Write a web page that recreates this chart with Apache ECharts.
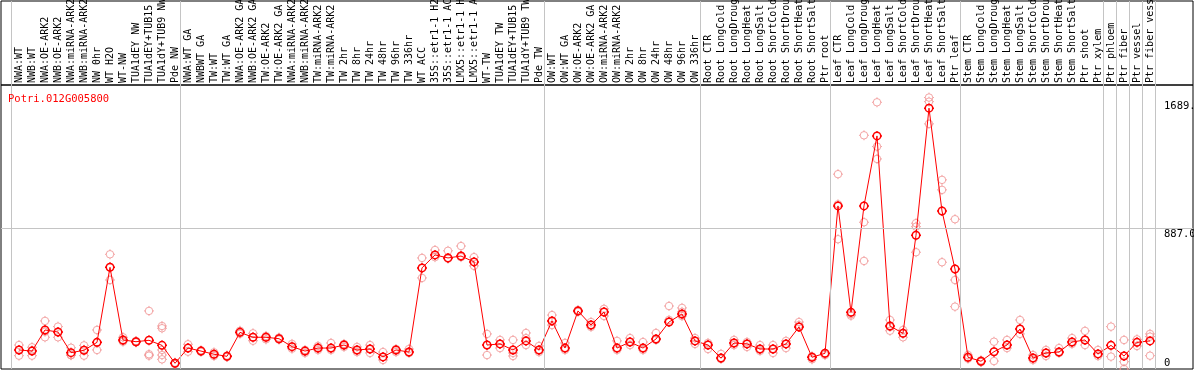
<!DOCTYPE html>
<html>
<head>
<meta charset="utf-8">
<script src="https://cdn.jsdelivr.net/npm/echarts@6/dist/echarts.min.js"></script>
<style>
html,body{margin:0;padding:0;background:#fff;}
#chart{width:1194px;height:370px;}
</style>
</head>
<body>
<div id="chart"></div>
<script>
const geneName = 'Potri.012G005800';

const categories = [
 'NWA:WT','NWB:WT','NWA:OE-ARK2','NWB:OE-ARK2','NWA:miRNA-ARK2','NWB:miRNA-ARK2','NW 0hr','WT H2O','WT-NW','TUA1dEY NW','TUA1dEY+TUB15 NW','TUA1dY+TUB9 NW','Pde NW',
 'NWA:WT GA','NWBWT GA','TW:WT','TW:WT GA','NWA:OE-ARK2 GA','NWB:OE-ARK2 GA','TW:OE-ARK2','TW:OE-ARK2 GA','NWA:miRNA-ARK2','NWB:miRNA-ARK2','TW:miRNA-ARK2','TW:miRNA-ARK2',
 'TW 2hr','TW 8hr','TW 24hr','TW 48hr','TW 96hr','TW 336hr','WT ACC','35S::etr1-1 H2O','35S::etr1-1 ACC','LMX5::etr1-1 H2O','LMX5::etr1-1 ACC','WT-TW','TUA1dEY TW','TUA1dEY+TUB15 TW','TUA1dY+TUB9 TW','Pde TW',
 'OW:WT','OW:WT GA','OW:OE-ARK2','OW:OE-ARK2 GA','OW:miRNA-ARK2','OW:miRNA-ARK2','OW 2hr','OW 8hr','OW 24hr','OW 48hr','OW 96hr','OW 336hr',
 'Root CTR','Root LongCold','Root LongDrought','Root LongHeat','Root LongSalt','Root ShortCold','Root ShortDrought','Root ShortHeat','Root ShortSalt','Ptr root',
 'Leaf CTR','Leaf LongCold','Leaf LongDrought','Leaf LongHeat','Leaf LongSalt','Leaf ShortCold','Leaf ShortDrought','Leaf ShortHeat','Leaf ShortSalt','Ptr leaf',
 'Stem CTR','Stem LongCold','Stem LongDrought','Stem LongHeat','Stem LongSalt','Stem ShortCold','Stem ShortDrought','Stem ShortHeat','Stem ShortSalt','Ptr shoot','Ptr xylem',
 'Ptr phloem','Ptr fiber','Ptr vessel','Ptr fiber vessel'
];

const means = [
 120,113,246,233,103,118,168,641,183,172,181,149,36,
 132,113,93,80,231,200,200,191,141,113,132,132,
 151,120,126,76,120,107,637,719,700,712,675,151,158,120,177,120,
 303,132,366,277,359,132,170,132,189,296,347,177,
 151,69,164,158,126,126,158,265,74,99,
 1028,357,1028,1469,271,225,843,1644,996,630,
 74,49,109,151,252,69,101,107,170,183,95,
 149,82,168,177
];

const replicates = [
 [151,120,84],[137,118,84],[303,235,200],[267,232,200],[134,88,87],[149,121,84],[246,165,120],[723,641,561],[200,178,172],[176,170,168],[366,93,84],[271,257,120,88,61],[40,36,32],
 [156,132,109],[118,113,108],[105,93,82],[85,80,76],[241,231,222],[225,200,178],[208,200,187],[198,191,185],[158,141,128],[120,113,101],[145,132,120],[164,132,120],
 [158,151,139],[139,120,107],[151,126,101],[107,76,57],[126,120,107],[126,107,101],[700,637,574],[750,719,705],[745,700,695],[775,712,705],[705,675,650],[221,151,88],[183,158,132],[183,101,82],[227,195,151],[145,120,107],
 [340,303,277],[164,132,120],[372,366,360],[296,277,265],[379,359,334],[177,132,120],[195,170,151],[170,132,120],[227,189,183],[397,296,309],[385,360,334],[195,177,158],
 [164,151,126],[95,69,63],[183,164,151],[170,158,139],[151,126,114],[151,126,101],[177,158,132],[296,277,265],[80,74,61],[99,95,88],
 [1228,1038,818],[357,345,336],[1473,925,681],[1681,1402,1324],[309,265,241],[246,225,200],[919,897,736],[1711,1685,1545],[1192,1129,673],[944,561,393],
 [88,74,65],[55,49,44],[172,109,50],[183,151,132],[309,252,221],[88,69,57],[120,101,82],[132,107,101],[195,170,158],[240,183,151],[120,95,82],
 [267,149,78],[183,82,46,0],[187,168,145],[221,204,84]
];

// first category index of each group (separator drawn just before it)
const groupStarts = [0,13,41,53,63,73,84,85,86,87,88];
const refLineValue = 887.0;
const upperLabelValues = [887.0, 1689.9];
const lowerLabelValues = [0];

const Y_MAX = 1790;
const X_MIN = -1.3846, X_MAX = 90.3077;
const MONO = "'DejaVu Sans Mono', monospace";
const FS = 10.5;
const CAT_FS = 10;
const GRID_LINE = '#c4c4c4';

const markerPath = 'path://M1.5,6A4.5,4.5 0 1 1 10.5,6A4.5,4.5 0 1 1 1.5,6Z M6,0L6,1.5 M6,10.5L6,12 M0,6L1.5,6 M10.5,6L12,6';

const repData = [];
replicates.forEach((arr, i) => arr.forEach(v => repData.push([i, v])));
const meanData = means.map((v, i) => [i, v]);
const sepLines = groupStarts.map(s => ({xAxis: s - 0.6}));

const hiddenAxis = {show: false, axisLine: {show: false}, axisTick: {show: false}, axisLabel: {show: false}, splitLine: {show: false}};

const chart = echarts.init(document.getElementById('chart'), null, {renderer: 'canvas'});
chart.setOption({
  animation: false,
  backgroundColor: '#fff',
  title: {
    text: geneName, left: 3, top: 89,
    textStyle: {color: '#ff0000', fontFamily: MONO, fontSize: FS, fontWeight: 'normal'}
  },
  grid: [
    {left: 1, right: 1, top: 85, bottom: 1, show: true, borderColor: '#000', borderWidth: 1,
     containLabel: false, outerBoundsMode: 'none'},
    {left: 1, right: 1, top: 1, height: 84, show: true, borderColor: '#000', borderWidth: 1,
     containLabel: false, outerBoundsMode: 'none'}
  ],
  xAxis: [{
    gridIndex: 0, type: 'value', min: X_MIN, max: X_MAX, position: 'top',
    axisLine: {show: false, onZero: false},
    axisTick: {show: false},
    splitLine: {show: false},
    axisLabel: {
      customValues: categories.map((_, i) => i),
      formatter: v => categories[Math.round(v)] || '',
      rotate: -90, align: 'left', verticalAlign: 'middle', margin: 2,
      color: '#000', fontFamily: MONO, fontSize: CAT_FS,
      hideOverlap: false
    }
  }, Object.assign({gridIndex: 1, type: 'value', min: X_MIN, max: X_MAX}, hiddenAxis)],
  yAxis: [{
    gridIndex: 0, type: 'value', min: 0, max: Y_MAX, position: 'right',
    axisLine: {show: false}, axisTick: {show: false}, splitLine: {show: false},
    axisLabel: {
      inside: true, align: 'left', margin: 29, verticalAlign: 'top',
      customValues: upperLabelValues, formatter: v => v.toFixed(1),
      color: '#000', fontFamily: MONO, fontSize: FS
    }
  }, {
    gridIndex: 0, type: 'value', min: 0, max: Y_MAX, position: 'right',
    axisLine: {show: false}, axisTick: {show: false}, splitLine: {show: false},
    axisLabel: {
      inside: true, align: 'left', margin: 29, verticalAlign: 'bottom',
      customValues: lowerLabelValues, formatter: v => String(v),
      color: '#000', fontFamily: MONO, fontSize: FS
    }
  }, Object.assign({gridIndex: 1, type: 'value', min: 0, max: 1}, hiddenAxis)],
  series: [{
    type: 'scatter', xAxisIndex: 0, yAxisIndex: 0, data: repData, symbol: markerPath, symbolSize: 10,
    itemStyle: {color: 'rgba(255,255,255,0)', borderColor: '#f09090', borderWidth: 1},
    z: 2, silent: true
  }, {
    type: 'line', xAxisIndex: 0, yAxisIndex: 0, data: meanData, symbol: markerPath, symbolSize: 10, showAllSymbol: true,
    lineStyle: {color: '#ff0000', width: 1},
    itemStyle: {color: 'rgba(255,255,255,0)', borderColor: '#ff0000', borderWidth: 1.5},
    z: 3, silent: true,
    markLine: {
      silent: true, symbol: 'none', label: {show: false},
      lineStyle: {color: GRID_LINE, width: 1, type: 'solid'},
      data: sepLines.concat([{yAxis: refLineValue}])
    }
  }, {
    type: 'line', xAxisIndex: 1, yAxisIndex: 2, data: [], silent: true,
    markLine: {
      silent: true, symbol: 'none', label: {show: false},
      lineStyle: {color: GRID_LINE, width: 1, type: 'solid'},
      data: sepLines
    }
  }]
});
</script>
</body>
</html>
